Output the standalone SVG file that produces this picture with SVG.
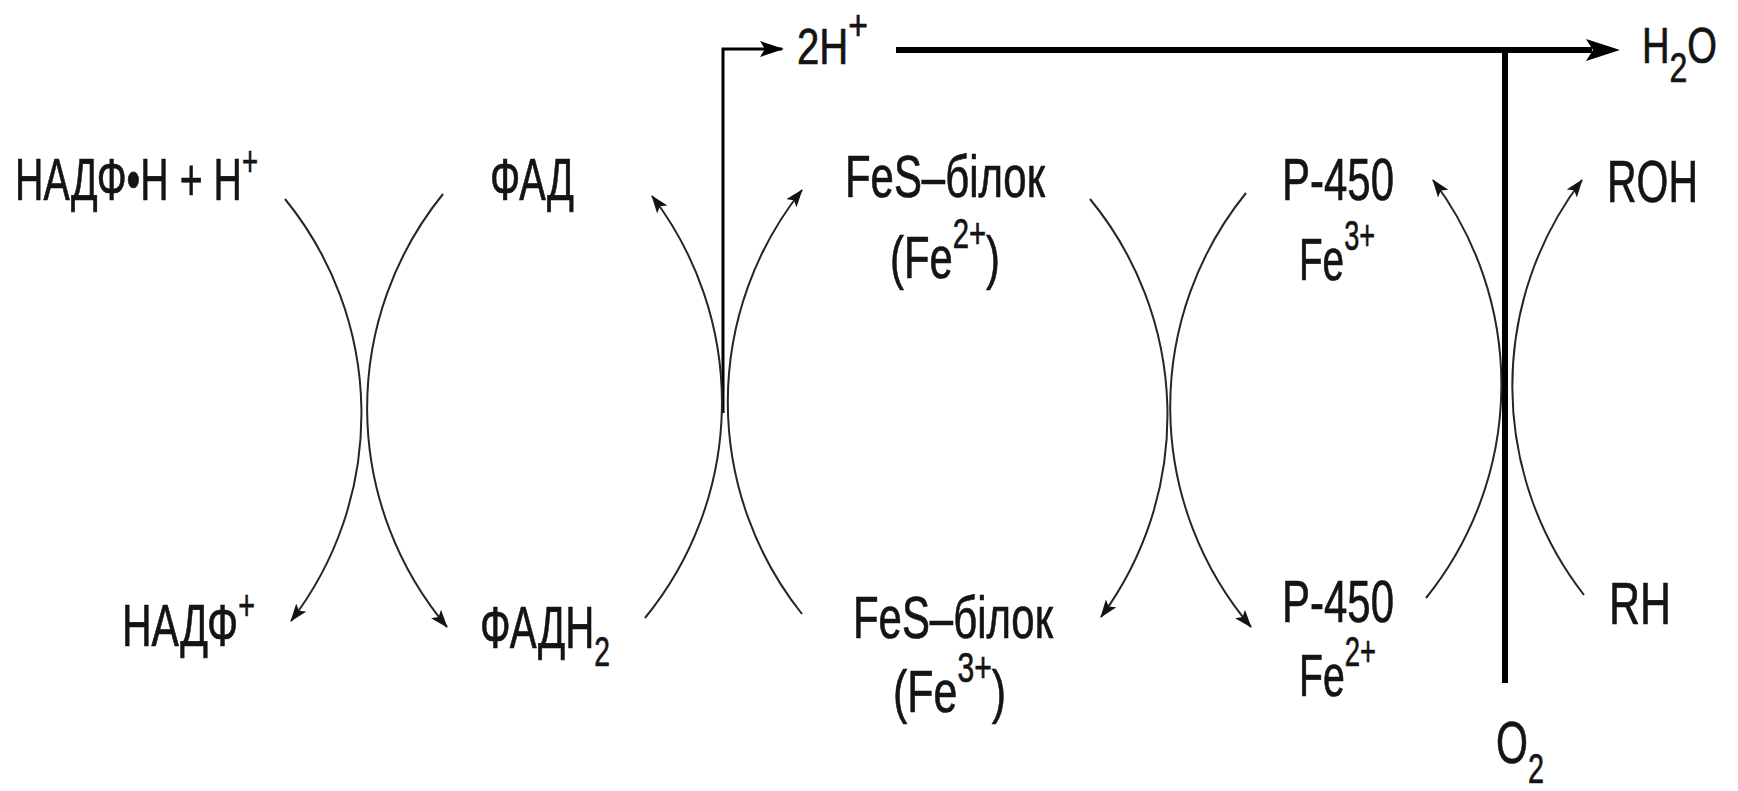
<svg xmlns="http://www.w3.org/2000/svg" width="1738" height="791" viewBox="0 0 1738 791">
<style>
.t{font-family:"Liberation Sans","Noto Sans",Arial,sans-serif;fill:#141414;stroke:#141414;stroke-width:0.7px;font-size:60px}
.ts{font-size:50px}
.sup{font-size:42px}
.sub{font-size:42px}
.arc{fill:none;stroke:#262626;stroke-width:2;marker-end:url(#ah)}
</style>
<defs>
<marker id="ah" viewBox="0 0 18 13" refX="17" refY="6.5" markerWidth="18" markerHeight="13" markerUnits="userSpaceOnUse" orient="auto">
<path d="M0,0 L18,6.5 L0,13 L4,6.5 z" fill="#141414"/>
</marker>
<marker id="ahMid" viewBox="0 0 24 16" refX="22" refY="8" markerWidth="24" markerHeight="16" markerUnits="userSpaceOnUse" orient="auto">
<path d="M0,0 L24,8 L0,16 L5,8 z" fill="#000"/>
</marker>
<marker id="ahBig" viewBox="0 0 34 22" refX="6" refY="11" markerWidth="34" markerHeight="22" markerUnits="userSpaceOnUse" orient="auto">
<path d="M0,0 L34,11 L0,22 L7,11 z" fill="#000"/>
</marker>
</defs>

<g id="connectors">
<line x1="896" y1="50" x2="1592" y2="50" stroke="#000" stroke-width="6" marker-end="url(#ahBig)"/>
<line x1="1505" y1="50" x2="1505" y2="683" stroke="#000" stroke-width="6"/>
<path d="M723,413 V49 H782" fill="none" stroke="#000" stroke-width="3" marker-end="url(#ahMid)"/>
<path class="arc" d="M285,199 A340,340 0 0 1 291,621"/>
<path class="arc" d="M443,194 A340,340 0 0 0 447,627"/>
<path class="arc" d="M645,618 A340,340 0 0 0 652,196"/>
<path class="arc" d="M802,614 A340,340 0 0 1 802,190"/>
<path class="arc" d="M1090,199 A340,340 0 0 1 1101,617"/>
<path class="arc" d="M1246,193 A340,340 0 0 0 1251,627"/>
<path class="arc" d="M1426,598 A340,340 0 0 0 1433,180"/>
<path class="arc" d="M1584,595 A340,340 0 0 1 1582,180"/>
</g>

<g id="nadph"><text class="t" x="15" y="200" font-size="64" textLength="243" lengthAdjust="spacingAndGlyphs">НАДФ•Н + Н<tspan class="sup" dy="-24">+</tspan></text></g>
<g id="fad"><text class="t" x="490" y="200" textLength="84" lengthAdjust="spacingAndGlyphs">ФАД</text></g>
<g id="fes-red"><text class="t" x="845" y="197" textLength="200" lengthAdjust="spacingAndGlyphs">FeS–білок</text>
<text class="t" x="890" y="278" textLength="110" lengthAdjust="spacingAndGlyphs">(Fe<tspan class="sup" dy="-30">2+</tspan><tspan dy="30">)</tspan></text></g>
<g id="p450-ox"><text class="t" x="1282" y="200" textLength="112" lengthAdjust="spacingAndGlyphs">P-450</text>
<text class="t" x="1299" y="280" textLength="76" lengthAdjust="spacingAndGlyphs">Fe<tspan class="sup" dy="-30">3+</tspan></text></g>
<g id="roh"><text class="t" x="1607" y="202" textLength="91" lengthAdjust="spacingAndGlyphs">ROH</text></g>
<g id="h2plus"><text class="t ts" x="797" y="64" textLength="71" lengthAdjust="spacingAndGlyphs">2H<tspan class="sup" font-size="32" dy="-24">+</tspan></text></g>
<g id="h2o"><text class="t ts" x="1642" y="63" textLength="75" lengthAdjust="spacingAndGlyphs">H<tspan class="sub" font-size="34" dy="19">2</tspan><tspan dy="-19">O</tspan></text></g>
<g id="nadp"><text class="t" x="122" y="646" textLength="133" lengthAdjust="spacingAndGlyphs">НАДФ<tspan class="sup" dy="-26">+</tspan></text></g>
<g id="fadh2"><text class="t" x="480" y="648" textLength="130" lengthAdjust="spacingAndGlyphs">ФАДН<tspan class="sub" font-size="44" dy="18">2</tspan></text></g>
<g id="fes-ox"><text class="t" x="853" y="638" textLength="200" lengthAdjust="spacingAndGlyphs">FeS–білок</text>
<text class="t" x="893" y="712" textLength="113" lengthAdjust="spacingAndGlyphs">(Fe<tspan class="sup" dy="-30">3+</tspan><tspan dy="30">)</tspan></text></g>
<g id="p450-red"><text class="t" x="1282" y="622" textLength="112" lengthAdjust="spacingAndGlyphs">P-450</text>
<text class="t" x="1299" y="696" textLength="77" lengthAdjust="spacingAndGlyphs">Fe<tspan class="sup" dy="-30">2+</tspan></text></g>
<g id="rh"><text class="t" x="1609" y="624" textLength="62" lengthAdjust="spacingAndGlyphs">RH</text></g>
<g id="o2"><text class="t" x="1496" y="763" textLength="48" lengthAdjust="spacingAndGlyphs">O<tspan class="sub" font-size="42" dy="20">2</tspan></text></g>
</svg>
